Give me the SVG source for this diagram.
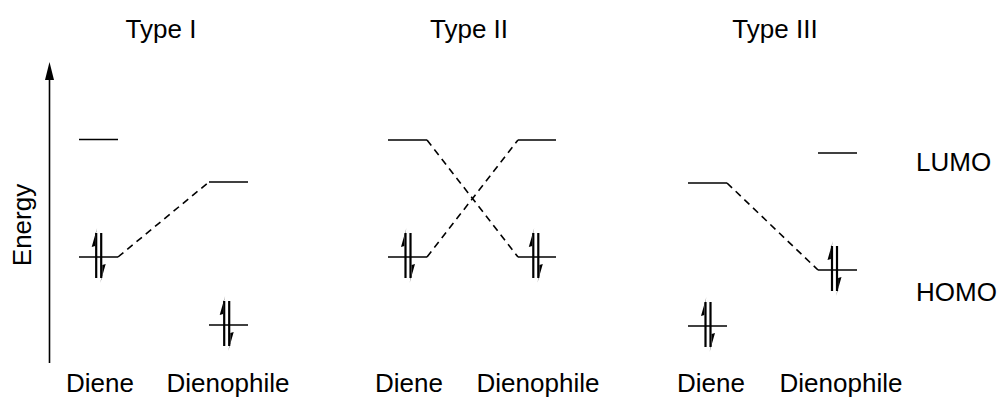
<svg xmlns="http://www.w3.org/2000/svg" width="1000" height="398" viewBox="0 0 1000 398">
<style>
  text { font-family: "Liberation Sans", Arial, sans-serif; font-size: 26px; fill: #000; }
  .mid { text-anchor: middle; }
  .lvl { stroke: #000; stroke-width: 1.6; fill: none; }
  .dash { stroke: #000; stroke-width: 1.6; fill: none; stroke-dasharray: 7 5; }
  .spin { stroke: #000; stroke-width: 2.2; fill: none; }
  .barb { fill: #000; stroke: none; }
  .axis { stroke: #000; stroke-width: 1.6; fill: none; }
</style>
<defs>
  <g id="pair">
    <line class="spin" x1="-2.5" y1="21" x2="-2.5" y2="-24"/>
    <polygon class="barb" points="-1.6,-29 -7,-10 -3.6,-11 -3.6,-20"/>
    <line class="spin" x1="2.5" y1="-24" x2="2.5" y2="21"/>
    <polygon class="barb" points="1.6,26 7,7 3.6,8 3.6,17"/>
  </g>
</defs>
<rect width="1000" height="398" fill="#fff"/>

<g id="titles">
  <text class="mid" x="161" y="38">Type I</text>
  <text class="mid" x="469" y="38">Type II</text>
  <text class="mid" x="775" y="38">Type III</text>
</g>

<g id="axis">
  <line class="axis" x1="49.5" y1="363" x2="49.5" y2="76"/>
  <polygon points="49.5,62 45,80 54,80" fill="#000"/>
  <text class="mid" transform="translate(31,225) rotate(-90)">Energy</text>
</g>

<g id="side-labels">
  <text x="916" y="171">LUMO</text>
  <text x="916" y="301">HOMO</text>
</g>

<g id="type1-diene">
  <line class="lvl" x1="79" y1="139.5" x2="118" y2="139.5"/>
  <line class="lvl" x1="79" y1="257" x2="118" y2="257"/>
  <use href="#pair" x="98.7" y="257"/>
  <text class="mid" x="100" y="392">Diene</text>
</g>
<g id="type1-dienophile">
  <line class="lvl" x1="209" y1="182" x2="248" y2="182"/>
  <line class="lvl" x1="209" y1="325" x2="248" y2="325"/>
  <use href="#pair" x="226.7" y="325"/>
  <text class="mid" x="228" y="392">Dienophile</text>
</g>

<g id="type2-diene">
  <line class="lvl" x1="388" y1="140" x2="427" y2="140"/>
  <line class="lvl" x1="388" y1="257" x2="427" y2="257"/>
  <use href="#pair" x="408" y="257"/>
  <text class="mid" x="409" y="392">Diene</text>
</g>
<g id="type2-dienophile">
  <line class="lvl" x1="518" y1="140" x2="556" y2="140"/>
  <line class="lvl" x1="518" y1="257" x2="556" y2="257"/>
  <use href="#pair" x="535.8" y="257"/>
  <text class="mid" x="538" y="392">Dienophile</text>
</g>

<g id="type3-diene">
  <line class="lvl" x1="688" y1="183" x2="727" y2="183"/>
  <line class="lvl" x1="688" y1="326" x2="727" y2="326"/>
  <use href="#pair" x="708" y="326"/>
  <text class="mid" x="711" y="392">Diene</text>
</g>
<g id="type3-dienophile">
  <line class="lvl" x1="818" y1="153" x2="857" y2="153"/>
  <line class="lvl" x1="818" y1="270" x2="857" y2="270"/>
  <use href="#pair" x="834.5" y="270"/>
  <text class="mid" x="841" y="392">Dienophile</text>
</g>

<g id="connectors">
  <line class="dash" x1="118" y1="257" x2="209" y2="182"/>
  <line class="dash" x1="427" y1="140" x2="518" y2="257"/>
  <line class="dash" x1="427" y1="257" x2="518" y2="140"/>
  <line class="dash" x1="727" y1="183" x2="818" y2="270"/>
</g>
</svg>
